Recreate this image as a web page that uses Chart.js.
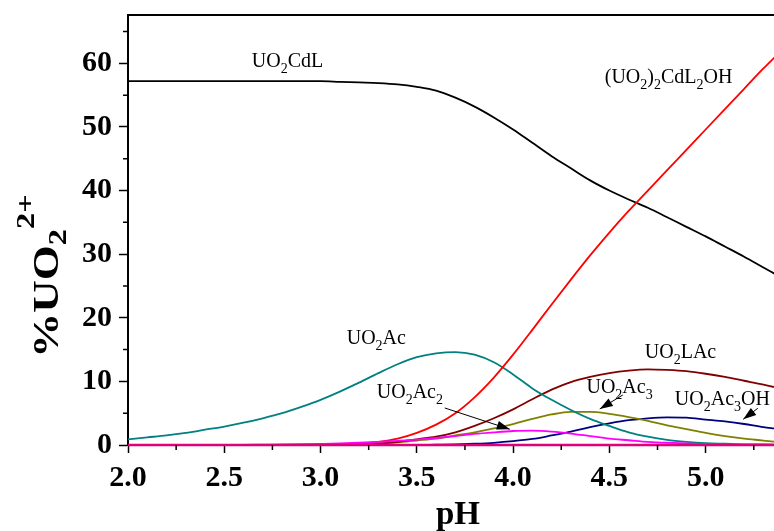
<!DOCTYPE html>
<html>
<head>
<meta charset="utf-8">
<script src="https://cdn.jsdelivr.net/npm/chart.js@4.4.0/dist/chart.umd.min.js"></script>
<style>
html, body { margin: 0; padding: 0; background: #fff; overflow: hidden; }
#wrap { width: 774px; height: 531px; position: relative; }
</style>
</head>
<body>
<div id="wrap"><canvas id="chart"></canvas></div>
<script>
// pH grid the curves were read at
const pH = [2.0, 2.1, 2.2, 2.3, 2.4, 2.5, 2.6, 2.7, 2.8, 2.9,
            3.0, 3.1, 3.2, 3.3, 3.4, 3.5, 3.6, 3.7, 3.8, 3.9,
            4.0, 4.1, 4.2, 4.3, 4.4, 4.5, 4.6, 4.7, 4.8, 4.9,
            5.0, 5.1, 5.2, 5.3, 5.36];

// % of UO2 2+ in each species
const UO2CdL = [57.2, 57.2, 57.2, 57.2, 57.2, 57.2, 57.2, 57.2, 57.2, 57.2,
                57.2, 57.1, 57.0, 56.9, 56.7, 56.3, 55.7, 54.6, 53.2, 51.5,
                49.6, 47.5, 45.4, 43.5, 41.6, 40.0, 38.6, 37.3, 35.8, 34.3,
                32.8, 31.2, 29.6, 27.9, 26.9];
const UO2_2CdL2OH = [0, 0, 0, 0, 0, 0, 0, 0, 0, 0,
                     0.05, 0.1, 0.25, 0.5, 1.0, 1.9, 3.2, 5.0, 7.5, 10.6,
                     14.2, 18.1, 22.1, 26.0, 29.8, 33.4, 36.8, 40.0, 43.2, 46.4,
                     49.6, 52.8, 56.0, 59.2, 61.0];
const UO2Ac = [0.9, 1.2, 1.5, 1.9, 2.4, 2.9, 3.5, 4.2, 5.0, 6.0,
               7.1, 8.4, 9.8, 11.3, 12.7, 13.8, 14.4, 14.6, 14.2, 13.0,
               11.1, 8.9, 7.1, 5.5, 4.1, 3.0, 2.0, 1.3, 0.8, 0.5,
               0.3, 0.2, 0.1, 0.1, 0.05];
const UO2LAc = [0, 0, 0, 0, 0, 0, 0, 0, 0, 0,
                0, 0.05, 0.1, 0.25, 0.5, 0.9, 1.3, 2.0, 3.0, 4.2,
                5.6, 7.2, 8.7, 9.9, 10.7, 11.3, 11.7, 11.9, 11.8, 11.6,
                11.2, 10.7, 10.1, 9.5, 9.1];
const UO2Ac3 = [0, 0, 0, 0, 0, 0, 0, 0, 0, 0,
                0, 0.03, 0.1, 0.2, 0.4, 0.7, 1.0, 1.5, 2.0, 2.6,
                3.3, 4.1, 4.8, 5.2, 5.2, 4.9, 4.4, 3.8, 3.1, 2.5,
                1.9, 1.4, 1.0, 0.7, 0.5];
const UO2Ac3OH = [0, 0, 0, 0, 0, 0, 0, 0, 0, 0,
                  0, 0, 0, 0, 0, 0, 0.05, 0.1, 0.2, 0.35,
                  0.6, 0.95, 1.5, 2.1, 2.8, 3.4, 3.9, 4.2, 4.35, 4.3,
                  4.0, 3.7, 3.3, 2.8, 2.6];
const UO2Ac2 = [0, 0, 0, 0, 0, 0, 0.02, 0.05, 0.08, 0.12,
                0.18, 0.25, 0.35, 0.5, 0.65, 0.85, 1.1, 1.4, 1.75, 2.0,
                2.2, 2.25, 2.1, 1.8, 1.4, 1.0, 0.75, 0.5, 0.35, 0.25,
                0.15, 0.1, 0.07, 0.05, 0.04];
// species that stays at zero over the whole range (pink base line)
const UO2free = [0, 0, 0, 0, 0, 0, 0, 0, 0, 0,
                 0, 0, 0, 0, 0, 0, 0, 0, 0, 0,
                 0, 0, 0, 0, 0, 0, 0, 0, 0, 0,
                 0, 0, 0, 0, 0];

const xTicks = [2.0, 2.5, 3.0, 3.5, 4.0, 4.5, 5.0];
const yTicks = [0, 10, 20, 30, 40, 50, 60];

// curve labels, in data coordinates; '_' puts the next char as a subscript
const labels = [
    { text: 'UO_2CdL', x: 2.643, y: 59.5 },
    { text: '(UO_2)_2CdL_2OH', x: 4.476, y: 56.9 },
    { text: 'UO_2Ac', x: 3.136, y: 15.9 },
    { text: 'UO_2Ac_2', x: 3.292, y: 7.35 },
    { text: 'UO_2LAc', x: 4.684, y: 13.6 },
    { text: 'UO_2Ac_3', x: 4.381, y: 8.1 },
    { text: 'UO_2Ac_3OH', x: 4.840, y: 6.3 }
];
const arrows = [
    { from: [3.645, 5.82], to: [3.983, 2.47] },
    { from: [4.570, 7.87], to: [4.450, 5.66] },
    { from: [5.271, 5.77], to: [5.195, 4.04] }
];

const serif = "'Liberation Serif', 'Times New Roman', serif";

const series = [
    { data: UO2free, color: '#e0007a', width: 2.6 },
    { data: UO2Ac2, color: '#ff00ff' },
    { data: UO2_2CdL2OH, color: '#ff0000' },
    { data: UO2CdL, color: '#000000' },
    { data: UO2Ac, color: '#008080' },
    { data: UO2LAc, color: '#800000' },
    { data: UO2Ac3, color: '#808000' },
    { data: UO2Ac3OH, color: '#000080' }
];

const datasets = series.map(s => ({
    data: s.data.map((v, i) => ({ x: pH[i], y: v })),
    borderColor: s.color,
    borderWidth: s.width || 1.8,
    pointRadius: 0,
    fill: false,
    clip: 2,
    cubicInterpolationMode: 'monotone'
}));

function drawRich(ctx, str, x, y, size, bold) {
    const w = bold ? 'bold ' : '';
    const subSize = Math.round(size * 0.68);
    let cx = x;
    for (let i = 0; i < str.length; i++) {
        let ch = str[i];
        if (ch === '_') {
            ch = str[++i];
            ctx.font = w + subSize + 'px ' + serif;
            ctx.fillText(ch, cx, y + size * 0.3);
        } else {
            ctx.font = w + size + 'px ' + serif;
            ctx.fillText(ch, cx, y);
        }
        cx += ctx.measureText(ch).width;
    }
}

const decor = {
    id: 'decor',
    afterDraw(chart) {
        const ctx = chart.ctx;
        const xs = chart.scales.x, ys = chart.scales.y;
        const area = chart.chartArea;
        ctx.save();
        // top frame
        ctx.strokeStyle = '#000';
        ctx.lineWidth = 2;
        ctx.beginPath();
        ctx.moveTo(area.left - 1, area.top);
        ctx.lineTo(area.right, area.top);
        ctx.stroke();
        // minor ticks
        ctx.lineWidth = 1.5;
        ctx.beginPath();
        for (let v = 2.25; v < xs.max; v += 0.5) {
            const px = xs.getPixelForValue(v);
            ctx.moveTo(px, area.bottom);
            ctx.lineTo(px, area.bottom + 5);
        }
        for (let v = 5; v < ys.max; v += 10) {
            const py = ys.getPixelForValue(v);
            ctx.moveTo(area.left, py);
            ctx.lineTo(area.left - 5, py);
        }
        ctx.stroke();
        // labels
        ctx.fillStyle = '#000';
        ctx.textBaseline = 'alphabetic';
        labels.forEach(l => {
            drawRich(ctx, l.text, xs.getPixelForValue(l.x), ys.getPixelForValue(l.y), 20, false);
        });
        // arrows
        ctx.lineWidth = 1;
        arrows.forEach(a => {
            const x1 = xs.getPixelForValue(a.from[0]), y1 = ys.getPixelForValue(a.from[1]);
            const x2 = xs.getPixelForValue(a.to[0]), y2 = ys.getPixelForValue(a.to[1]);
            const ang = Math.atan2(y2 - y1, x2 - x1);
            ctx.beginPath();
            ctx.moveTo(x1, y1);
            ctx.lineTo(x2, y2);
            ctx.stroke();
            ctx.beginPath();
            ctx.moveTo(x2, y2);
            ctx.lineTo(x2 - 13 * Math.cos(ang) + 4.5 * Math.sin(ang), y2 - 13 * Math.sin(ang) - 4.5 * Math.cos(ang));
            ctx.lineTo(x2 - 13 * Math.cos(ang) - 4.5 * Math.sin(ang), y2 - 13 * Math.sin(ang) + 4.5 * Math.cos(ang));
            ctx.closePath();
            ctx.fill();
        });
        // x title
        ctx.font = 'bold 33px ' + serif;
        ctx.textAlign = 'center';
        ctx.fillText('pH', 458, 524);
        ctx.textAlign = 'left';
        // y title: %UO2 2+
        ctx.translate(46, 276);
        ctx.rotate(-Math.PI / 2);
        ctx.scale(1.25, 1);
        ctx.textBaseline = 'alphabetic';
        const F = 36, f = 26;
        ctx.font = 'bold ' + F + 'px ' + serif;
        const main = '%UO';
        const mw = ctx.measureText(main).width;
        ctx.font = 'bold ' + f + 'px ' + serif;
        const sw = ctx.measureText('2').width;
        const pw = ctx.measureText('2+').width;
        const total = mw + sw + pw;
        let cx = -total / 2;
        ctx.font = 'bold ' + F + 'px ' + serif;
        ctx.fillText(main, cx, 12);
        cx += mw;
        ctx.font = 'bold ' + f + 'px ' + serif;
        ctx.fillText('2', cx, 20);
        cx += sw;
        ctx.fillText('2+', cx, -12);
        ctx.restore();
    }
};

const ctx = document.getElementById('chart');
const chart = new Chart(ctx, {
    type: 'line',
    data: { datasets: datasets },
    plugins: [decor],
    options: {
        responsive: true,
        maintainAspectRatio: false,
        animation: false,
        layout: { padding: { top: 15, left: 0, right: 0, bottom: 0 } },
        plugins: { legend: { display: false }, tooltip: { enabled: false } },
        scales: {
            x: {
                type: 'linear',
                min: 2,
                max: 5.355,
                afterBuildTicks: (scale) => {
                    scale.ticks = xTicks.map(v => ({ value: v }));
                },
                afterFit: (scale) => {
                    scale.height = 86;
                    scale.paddingLeft = 0;
                    scale.paddingRight = 0;
                },
                border: { display: true, color: '#000', width: 2 },
                grid: { drawOnChartArea: false, drawTicks: true, tickLength: 8, color: '#000', tickWidth: 1.5 },
                ticks: {
                    color: '#000',
                    padding: 7,
                    maxRotation: 0,
                    autoSkip: false,
                    font: { family: serif, size: 30, weight: 'bold' },
                    callback: (v) => Number(v).toFixed(1)
                }
            },
            y: {
                min: 0,
                max: 67.6,
                afterBuildTicks: (scale) => {
                    scale.ticks = yTicks.map(v => ({ value: v }));
                },
                afterFit: (scale) => {
                    scale.width = 128;
                    scale.paddingTop = 0;
                    scale.paddingBottom = 0;
                },
                border: { display: true, color: '#000', width: 2 },
                grid: { drawOnChartArea: false, drawTicks: true, tickLength: 9, color: '#000', tickWidth: 1.5 },
                ticks: {
                    color: '#000',
                    padding: 7,
                    autoSkip: false,
                    font: { family: serif, size: 30, weight: 'bold' }
                }
            }
        }
    }
});
</script>
</body>
</html>
